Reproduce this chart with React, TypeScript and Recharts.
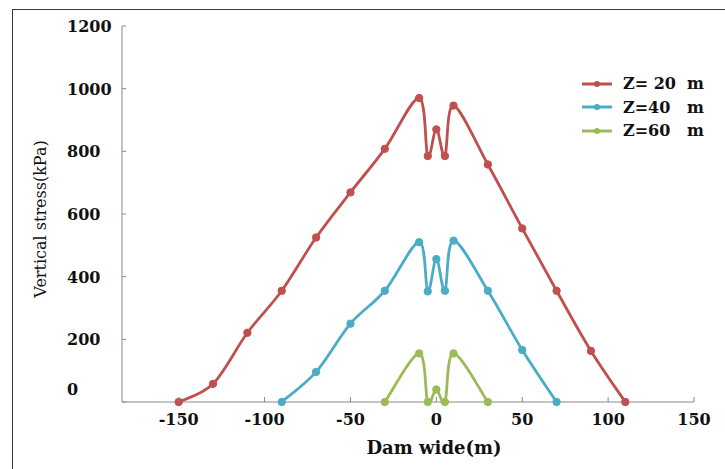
import React from "react";
import { LineChart, Line, XAxis, YAxis } from "recharts";

const xZ20 = [-150, -130, -110, -90, -70, -50, -30, -10, -5, 0, 5, 10, 30, 50, 70, 90, 110];
const z20 = [0, 58, 221, 355, 525, 669, 808, 970, 785, 870, 785, 946, 758, 554, 355, 163, 0];
const xZ40 = [-90, -70, -50, -30, -10, -5, 0, 5, 10, 30, 50, 70];
const z40 = [0, 96, 250, 355, 510, 353, 456, 355, 515, 355, 166, 0];
const xZ60 = [-30, -10, -5, 0, 5, 10, 30];
const z60 = [0, 155, 0, 40, 0, 155, 0];

const xTicks = [-150, -100, -50, 0, 50, 100, 150];
const yTicks = [0, 200, 400, 600, 800, 1000, 1200];

const series = [
  { name: "Z= 20  m", color: "#C0504D", data: xZ20.map((x, i) => ({ x, y: z20[i] })) },
  { name: "Z=40   m", color: "#4BACC6", data: xZ40.map((x, i) => ({ x, y: z40[i] })) },
  { name: "Z=60   m", color: "#9BBB59", data: xZ60.map((x, i) => ({ x, y: z60[i] })) },
];

const SERIF = "'DejaVu Serif', 'Liberation Serif', serif";
const AXIS = "#8a8a8a";

// excel-like smoothed line (catmull-rom through the points)
function smoothCurve(ctx: any) {
  let pts: number[][] = [];
  return {
    areaStart() {},
    areaEnd() {},
    lineStart() {
      pts = [];
    },
    point(x: number, y: number) {
      pts.push([+x, +y]);
    },
    lineEnd() {
      if (!pts.length) return;
      ctx.moveTo(pts[0][0], pts[0][1]);
      for (let i = 0; i < pts.length - 1; i++) {
        const p0 = pts[i - 1] || pts[i];
        const p1 = pts[i];
        const p2 = pts[i + 1];
        const p3 = pts[i + 2] || p2;
        ctx.bezierCurveTo(
          p1[0] + (p2[0] - p0[0]) / 6,
          p1[1] + (p2[1] - p0[1]) / 6,
          p2[0] - (p3[0] - p1[0]) / 6,
          p2[1] - (p3[1] - p1[1]) / 6,
          p2[0],
          p2[1]
        );
      }
    },
  };
}

const XTick = (props: any) => {
  const { x, y, payload } = props;
  return (
    <g>
      <line x1={x} x2={x} y1={y} y2={y - 5} stroke={AXIS} />
      <text x={x} y={y + 23} textAnchor="middle" fontFamily={SERIF} fontWeight="bold" fontSize={16} fill="#111">
        {payload.value}
      </text>
    </g>
  );
};

const YTick = (props: any) => {
  const { x, y, payload } = props;
  const dy = payload.value === 0 ? -13 : 0;
  return (
    <g>
      <line x1={x} x2={x + 4} y1={y} y2={y} stroke={AXIS} />
      <text x={x - 55} y={y + dy + 6} textAnchor="start" fontFamily={SERIF} fontWeight="bold" fontSize={16} fill="#111">
        {payload.value}
      </text>
    </g>
  );
};

function LegendBox() {
  return (
    <div style={{ position: "absolute", left: 578, top: 72 }}>
      {series.map((s) => (
        <div key={s.name} style={{ display: "flex", alignItems: "center", height: 23.5 }}>
          <svg width={45} height={12}>
            <line x1={4} x2={34} y1={6} y2={6} stroke={s.color} strokeWidth={3} />
            <circle cx={19} cy={6} r={3} fill={s.color} />
          </svg>
          <span style={{ fontFamily: SERIF, fontWeight: "bold", fontSize: 16, color: "#111", whiteSpace: "pre" }}>
            {s.name}
          </span>
        </div>
      ))}
    </div>
  );
}

export default function App() {
  return (
    <div style={{ position: "absolute", left: 0, top: 0, width: 725, height: 469, overflow: "hidden", background: "#fff" }}>
      <div
        style={{
          position: "absolute",
          left: 12,
          top: 9,
          width: 800,
          height: 600,
          border: "1.5px solid #3a3a3a",
        }}
      />
      <div style={{ position: "absolute", left: 0, top: 0 }}>
        <LineChart width={725} height={469} margin={{ top: 26, right: 31, left: 62, bottom: 37 }}>
          <XAxis
            type="number"
            dataKey="x"
            domain={[-183, 150]}
            ticks={xTicks}
            allowDataOverflow
            stroke={AXIS}
            tickLine={false}
            tickSize={0}
            tickMargin={0}
            tick={<XTick />}
            height={30}
            label={() => (
              <text x={434} y={454} textAnchor="middle" fontFamily={SERIF} fontWeight="bold" fontSize={18} fill="#111">
                Dam wide(m)
              </text>
            )}
          />
          <YAxis
            type="number"
            domain={[0, 1200]}
            ticks={yTicks}
            stroke={AXIS}
            tickLine={false}
            tickSize={0}
            tickMargin={0}
            tick={<YTick />}
            width={60}
            label={() => (
              <text
                x={46}
                y={219}
                transform="rotate(-90 46 219)"
                textAnchor="middle"
                fontFamily={SERIF}
                fontSize={16}
                fill="#111"
              >
                Vertical stress(kPa)
              </text>
            )}
          />
          {series.map((s) => (
            <Line
              key={s.name}
              data={s.data}
              dataKey="y"
              name={s.name}
              type={smoothCurve as any}
              stroke={s.color}
              strokeWidth={2.8}
              dot={{ r: 3.7, fill: s.color, stroke: s.color, strokeWidth: 1 }}
              activeDot={false}
              isAnimationActive={false}
            />
          ))}
        </LineChart>
      </div>
      <LegendBox />
    </div>
  );
}
